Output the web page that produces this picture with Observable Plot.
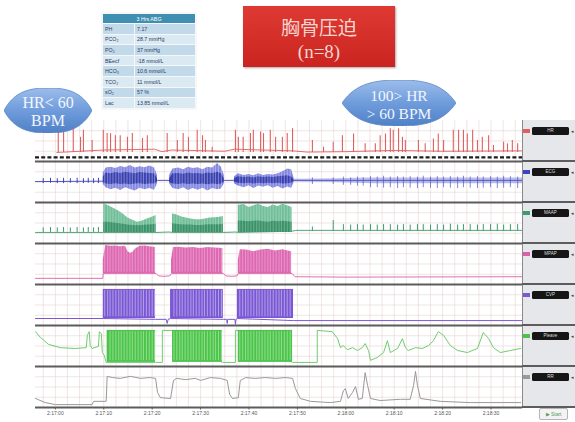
<!DOCTYPE html>
<html><head><meta charset="utf-8">
<script src="https://cdn.jsdelivr.net/npm/d3@7"></script>
<script src="https://cdn.jsdelivr.net/npm/@observablehq/plot@0.6"></script>
<style>
body{margin:0;background:#fff;}
#wrap{position:relative;width:575px;height:422px;overflow:hidden;background:#fff;}
#wrap svg{position:absolute;left:0;top:0;}
.ov{position:absolute;}
table.abg{border-collapse:collapse;font-family:"Liberation Sans",sans-serif;font-size:5.3px;color:#27405e;}
table.abg td{height:9.6px;padding:0 2px;border:1px solid #f4f8fb;white-space:nowrap;}
</style></head><body><div id="wrap"></div>
<script>
// ---------------- DATA ----------------
const channels = ["HR","ECG","MAAP","MPAP","CVP","Pleave","RR"];
const channelLabels = ["HR","ECG","MAAP","MPAP","CVP","Pleave","RR"];
const tickSeconds = [0,10,20,30,40,50,60,70,80,90];
const tickLabels = ["2:17:00","2:17:10","2:17:20","2:17:30","2:17:40","2:17:50","2:18:00","2:18:10","2:18:20","2:18:30"];
const timeStart = -4.1, timeEnd = 96.5;

const abgTitle = "3 Hrs ABG";
const abgLabels = ["PH","PCO₂","PO₂","BEecf","HCO₃","TCO₂","sO₂","Lac"];
const abgValues = ["7.17","28.7 mmHg","37 mmHg","-18 mmol/L","10.6 mmol/L","11 mmol/L","57 %","13.85 mmol/L"];
const titleLines = ["胸骨压迫","(n=8)"];
const leftNote = ["HR< 60","BPM"];
const rightNote = ["100> HR","> 60 BPM"];

// chest-compression instants (s)
const compressionTimes = [10.2,10.8,11.3,11.9,12.5,13.1,13.6,14.2,14.8,15.4,15.9,16.5,17.1,17.7,18.2,18.8,19.4,20.0,20.5,
  24.5,25.1,25.7,26.2,26.8,27.4,28.0,28.5,29.1,29.7,30.3,30.8,31.4,32.0,32.6,33.1,33.7,34.3,
  38.1,38.7,39.3,39.8,40.4,41.0,41.6,42.1,42.7,43.3,43.9,44.4,45.0,45.6,46.2,46.7,47.3,47.9,48.5];

// HR (panel units 0-100)
const hrBase = [[0.3,22],[10,28],[20.5,30],[22,24],[24,28],[35,25],[37,30],[49,26],[52,23],[60,24],[70,27],[80,25],[96.3,26]];
const hrSpikes = [[0.6,72],[1.7,72],[3.7,84],[5.2,59],[5.8,76],[7.6,51],[9.9,76],[10.7,68],[11.4,68],[12.4,63],[13.4,63],
  [14.9,59],[15.9,68],[18.0,56],[19.0,63],[23.1,68],[25.2,51],[26.4,68],[27.5,59],[29.3,76],[30.4,63],[31.0,51],[32.4,35],
  [37.2,76],[37.8,59],[38.8,59],[40.3,68],[40.9,76],[42.4,72],[43.0,68],[44.4,76],[45.5,59],[46.9,59],[47.9,68],[49.0,80],
  [53.1,51],[55.4,35],[57.4,47],[59.3,63],[61.6,67],[64.0,43],[66.1,43],[67.1,63],[68.2,67],[69.2,80],[69.8,76],[70.9,80],
  [71.7,59],[72.3,51],[75.0,51],[76.4,43],[78.1,55],[79.1,67],[80.2,51],[82.2,76],[83.3,76],[84.3,76],[85.1,67],[86.2,76],
  [87.2,51],[88.2,59],[89.5,63],[90.5,39],[92.6,47],[93.4,43],[94.4,51],[95.5,43]];
const hrDashLevel = 10;

// beats outside compression
const preBeatT = [-2.5,-1.0,0.4,1.7,3.1,4.5,5.8,6.8,7.9,8.9];
const postBeatT = [53.1,57.4,59.5,61.0,62.4,63.6,65.1,66.5,67.8,69.2,70.7,71.9,73.3,74.8,76.0,77.5,78.9,80.2,81.6,83.1,84.3,85.7,87.2,88.4,89.9,91.3,92.6,94.0,95.5];

// ECG
const ecgLine = [[-4.1,51],[9.9,52],[21.1,54],[23.6,54],[34.9,54],[37.0,54],[49.3,54],[96.5,54]];
const ecgPreBeatLo = [46,47,46,46,47,46,46,47,46,46];
const ecgPreBeatHi = [58,59,58,59,58,59,58,59,58,59];
const ecgPostBeatLo = [44,44,42,42,40,40,36,36,35,36,34,36,35,34,36,35,34,36,35,34,36,35,34,35,36,34,35,36,34];
const ecgPostBeatHi = [60,60,62,60,62,61,63,62,64,62,63,62,63,62,64,62,63,62,63,62,64,62,63,62,63,62,64,63,62];
const ecgNoise = {t:[49.3,58,62,66,96.5], lo:[50,49,47,46,46], hi:[57,58,59,60,60]};
const ecgEnvT  = [[9.9,10.5,11.5,12.5,13.5,14.5,15.5,16.5,17.5,18.5,19.5,20.5,21.1],
                  [23.6,24.3,25.5,26.5,27.5,28.5,29.5,30.5,31.5,32.5,33.5,34.3,34.9],
                  [37.0,37.8,39,40,41,42,43,44,45,46,47,48,48.8,49.3]];
const ecgEnvHi = [[72,84,86,83,88,85,90,84,87,85,89,84,66],
                  [66,82,84,80,86,83,85,80,86,84,95,86,66],
                  [62,70,66,68,65,70,66,68,67,70,75,82,80,60]];
const ecgEnvLo = [[44,36,31,35,29,36,32,28,35,31,34,30,46],
                  [46,34,31,36,29,34,30,35,28,34,31,33,46],
                  [46,40,36,41,34,40,37,41,35,39,33,38,34,48]];
const ecgCoreHi = [[62,72,70,73,71,74,72,70,73,72,71,70,58],
                   [58,70,71,69,72,70,71,69,72,71,74,70,58],
                   [58,63,61,62,60,63,61,62,61,63,64,65,62,56]];
const ecgCoreLo = [[48,45,44,46,44,45,43,45,46,44,45,45,50],
                   [49,45,44,46,44,45,44,45,43,45,44,45,50],
                   [50,47,46,47,45,47,46,47,46,47,45,46,47,51]];

// MAAP
const maapLine = [[-4.1,27],[9.9,27],[20.8,27],[23.5,28],[24.2,27],[34.7,27],[37.2,28],[37.8,27],[48.9,30],[49.6,32],[96.5,32]];
const maapPreBeatV = [38,39,38,39,38,39,38,39,38,39];
const maapPostBeatV = [40,56,46,45,46,45,46,45,46,46,45,46,45,46,46,45,46,45,47,45,46,46,45,46,46,47,45,46,46];
const maapLo = 27;
const maapEnvT  = [[10.0,11,12,13,14,15,16,17,18,19,20,20.8],
                   [24.2,25,26,27,28,29,30,31,32,33,34,34.7],
                   [37.8,39,40,41,42,43,44,45,46,47,48,48.9]];
const maapEnvHi = [[97,92,86,80,72,62,57,52,55,60,64,68],
                   [72,70,65,62,60,58,58,60,62,63,64,66],
                   [93,95,88,92,96,90,88,94,90,96,92,88]];
const maapCoreHi = [[52,52,50,49,47,45,44,43,44,45,46,47],
                    [48,47,46,45,45,44,44,45,46,46,46,47],
                    [55,54,53,54,55,53,52,54,53,54,53,52]];

// MPAP
const mpapLine = [[-4.1,15],[9.8,15],[9.9,27],[20.8,27],[21.3,21],[22.5,20],[23.6,21],[24.0,27],[34.7,27],[35.2,21],[36.5,20],[37.5,21],[37.8,27],[48.9,27],[49.5,19],[60,18],[96.5,19]];
const mpapLo = 27;
const mpapEnvT  = [[9.9,10.4,11.5,12.5,13.5,14.5,15.0,15.5,16.0,16.5,17.5,18.5,19.5,20.7],
                   [24.0,24.4,25.5,27,28.5,30,31.5,33,34.6],
                   [37.8,38.2,39.5,41,42.5,44,45.5,47,48.8]];
const mpapEnvHi = [[60,95,93,94,92,93,80,76,78,86,93,94,92,90],
                   [60,90,91,89,90,88,90,89,88],
                   [60,85,84,80,84,86,82,85,80]];

// CVP
const cvpLine = [[-4.1,17],[9.9,17],[20.7,15],[22.9,15],[23.1,5],[23.3,15],[23.8,17],[34.7,15],[35.4,15],[35.5,5],[35.6,15],[37.1,15],[37.2,3],[37.3,15],[37.6,17],[49.2,12],[96.5,12]];
const cvpBlockStart = [9.9,23.8,37.6];
const cvpBlockEnd = [20.7,34.7,49.2];
const cvpBlockLo = 17, cvpBlockHi = 88;

// Pleave
const pleaveLine = [[-4.1,85],[-3.1,71],[-1.4,54],[1.0,46],[4.1,44],[6.4,46],[6.6,76],[7.0,85],[7.2,51],[7.6,44],[8.9,49],[9.1,85],[9.5,80],[9.7,34],[10.1,27],[10.5,10],
  [20.7,10],[22.1,10],[22.1,88],[24.2,88],[34.5,10],[37.2,10],[37.2,88],[37.8,88],[49.0,10],[54.1,10],[54.1,88],[57.2,85],[58.3,68],[58.9,46],[59.5,51],[60.3,41],
  [61.4,46],[62.4,39],[63.4,46],[64.0,56],[64.7,39],[65.1,15],[66.5,22],[67.8,34],[68.6,63],[69.2,34],[70.7,44],[71.7,68],[72.3,46],[72.9,39],[74.4,46],[75.8,44],
  [77.1,51],[78.1,63],[79.1,85],[80.2,76],[81.6,51],[83.1,39],[85.1,34],[87.2,44],[88.4,83],[89.5,68],[90.5,46],[91.9,34],[94.0,39],[96.1,44]];
const pleaveBlockStart = [10.7,24.2,37.8];
const pleaveBlockEnd = [20.7,34.5,49.0];
const pleaveBlockLo = 10, pleaveBlockHi = 88;

// RR
const rrLine = [[-4.1,22],[-2.1,12],[0,7],[7.6,7],[7.9,15],[10.5,15],[10.7,76],[11.8,73],[13.4,71],[15.5,76],[17.6,71],[19.6,73],[20.7,71],[21.1,37],[21.7,24],[23.8,22],
  [24.4,66],[25.0,71],[26.9,68],[28.9,71],[30.0,66],[32.0,73],[34.1,71],[35.5,66],[36.0,32],[36.6,22],[37.8,24],[38.2,66],[39.3,73],[41.3,71],[43.4,73],[45.5,71],
  [47.5,73],[49.0,71],[49.6,46],[50.6,22],[52.7,15],[56.8,12],[58.9,15],[59.5,41],[59.9,46],[60.5,22],[61.4,37],[62.0,51],[62.6,20],[63.4,22],[64.0,85],[64.5,54],
  [65.1,22],[67.1,17],[71.3,20],[73.3,20],[74.0,54],[74.4,88],[74.8,54],[75.4,22],[79.5,15],[85.7,12],[96.1,12]];

// ---------------- STYLE ----------------
const colors = {HR:"#e06060",ECG:"#3a43c0",MAAP:"#3c9c6e",MPAP:"#dc5fae",CVP:"#7a57d4",Pleave:"#4cc44c",RR:"#999999"};
const gridTimes = d3.range(-2.5, 96.5, 2.5);

// ---------------- BUILD ----------------
const pts = (ch, pairs) => pairs.map(([t, v]) => ({ch, t, v}));
const envRows = (ch, T, Lo, Hi) => T.flatMap((ts, b) => ts.map((t, i) => ({ch, b, t,
  lo: Array.isArray(Lo) ? Lo[b][i] : Lo, hi: Hi[b][i]})));
const blocks = (ch, S, E, lo, hi) => S.map((s, i) => ({ch, s, e: E[i], lo, hi}));
const inBlocks = (S, E) => compressionTimes.filter(t => S.some((s, i) => t > s + 0.15 && t < E[i] - 0.15));
const firsts = T => T.map(a => a[0]), lasts = T => T.map(a => a[a.length - 1]);

const marks = [
  Plot.ruleX(gridTimes, {stroke:"#e6d3d3", strokeWidth:0.6}),
  Plot.ruleY([25,50,75], {stroke:"#e6d3d3", strokeWidth:0.6}),
  // HR
  Plot.lineY(pts("HR", hrBase), {x:"t", y:"v", fy:"ch", stroke:colors.HR, strokeWidth:0.9}),
  Plot.ruleX(pts("HR", hrSpikes), {x:"t", y1:22, y2:"v", fy:"ch", stroke:colors.HR, strokeWidth:1.1}),
  Plot.ruleY([{ch:"HR", v:hrDashLevel}], {y:"v", fy:"ch", stroke:"#1e1e1e", strokeWidth:2.2, strokeDasharray:"4,2.2"}),
  // ECG
  Plot.lineY(pts("ECG", ecgLine), {x:"t", y:"v", fy:"ch", stroke:colors.ECG, strokeWidth:0.9}),
  Plot.areaY(ecgNoise.t.map((t,i)=>({ch:"ECG", t, lo:ecgNoise.lo[i], hi:ecgNoise.hi[i]})), {x:"t", y1:"lo", y2:"hi", fy:"ch", fill:"#5a62d0", fillOpacity:0.4}),
  Plot.ruleX(preBeatT.map((t,i)=>({ch:"ECG", t, lo:ecgPreBeatLo[i], hi:ecgPreBeatHi[i]})), {x:"t", y1:"lo", y2:"hi", fy:"ch", stroke:colors.ECG, strokeWidth:1}),
  Plot.ruleX(postBeatT.map((t,i)=>({ch:"ECG", t, lo:ecgPostBeatLo[i], hi:ecgPostBeatHi[i]})), {x:"t", y1:"lo", y2:"hi", fy:"ch", stroke:"#4a53c8", strokeWidth:0.7}),
  Plot.areaY(envRows("ECG", ecgEnvT, ecgEnvLo, ecgEnvHi), {x:"t", y1:"lo", y2:"hi", z:"b", fy:"ch", fill:"#6c72da", fillOpacity:0.85}),
  Plot.areaY(envRows("ECG", ecgEnvT, ecgCoreLo, ecgCoreHi), {x:"t", y1:"lo", y2:"hi", z:"b", fy:"ch", fill:"#2d35a8", fillOpacity:0.85}),
  Plot.ruleX(inBlocks(firsts(ecgEnvT), lasts(ecgEnvT)).map(t=>({ch:"ECG", t})), {x:"t", y1:20, y2:98, fy:"ch", stroke:"#fff", strokeOpacity:0.4, strokeWidth:0.9}),
  // MAAP
  Plot.lineY(pts("MAAP", maapLine), {x:"t", y:"v", fy:"ch", stroke:colors.MAAP, strokeWidth:0.9}),
  Plot.ruleX(preBeatT.map((t,i)=>({ch:"MAAP", t, v:maapPreBeatV[i]})), {x:"t", y1:maapLo, y2:"v", fy:"ch", stroke:colors.MAAP, strokeWidth:1}),
  Plot.ruleX(postBeatT.map((t,i)=>({ch:"MAAP", t, v:maapPostBeatV[i]})), {x:"t", y1:30, y2:"v", fy:"ch", stroke:colors.MAAP, strokeWidth:1}),
  Plot.areaY(envRows("MAAP", maapEnvT, maapLo, maapEnvHi), {x:"t", y1:"lo", y2:"hi", z:"b", fy:"ch", fill:"#62b88e", fillOpacity:0.9}),
  Plot.areaY(envRows("MAAP", maapEnvT, maapLo, maapCoreHi), {x:"t", y1:"lo", y2:"hi", z:"b", fy:"ch", fill:"#2f8a5f", fillOpacity:0.85}),
  Plot.ruleX(inBlocks(firsts(maapEnvT), lasts(maapEnvT)).map(t=>({ch:"MAAP", t})), {x:"t", y1:maapLo, y2:100, fy:"ch", stroke:"#fff", strokeOpacity:0.35, strokeWidth:0.8}),
  // MPAP
  Plot.lineY(pts("MPAP", mpapLine), {x:"t", y:"v", fy:"ch", stroke:colors.MPAP, strokeWidth:0.9}),
  Plot.areaY(envRows("MPAP", mpapEnvT, mpapLo, mpapEnvHi), {x:"t", y1:"lo", y2:"hi", z:"b", fy:"ch", fill:colors.MPAP, fillOpacity:0.95}),
  Plot.ruleX(inBlocks(firsts(mpapEnvT), lasts(mpapEnvT)).map(t=>({ch:"MPAP", t})), {x:"t", y1:mpapLo + 3, y2:100, fy:"ch", stroke:"#fff", strokeOpacity:0.4, strokeWidth:0.8}),
  // CVP
  Plot.lineY(pts("CVP", cvpLine), {x:"t", y:"v", fy:"ch", stroke:colors.CVP, strokeWidth:1}),
  Plot.rectY(blocks("CVP", cvpBlockStart, cvpBlockEnd, cvpBlockLo, cvpBlockHi), {x1:"s", x2:"e", y1:"lo", y2:"hi", fy:"ch", fill:colors.CVP}),
  Plot.ruleX(inBlocks(cvpBlockStart, cvpBlockEnd).map(t=>({ch:"CVP", t})), {x:"t", y1:cvpBlockLo + 4, y2:cvpBlockHi - 2, fy:"ch", stroke:"#fff", strokeOpacity:0.55, strokeWidth:0.8}),
  // Pleave
  Plot.lineY(pts("Pleave", pleaveLine), {x:"t", y:"v", fy:"ch", stroke:"#70cc70", strokeWidth:1}),
  Plot.rectY(blocks("Pleave", pleaveBlockStart, pleaveBlockEnd, pleaveBlockLo, pleaveBlockHi), {x1:"s", x2:"e", y1:"lo", y2:"hi", fy:"ch", fill:colors.Pleave}),
  Plot.ruleX(inBlocks(pleaveBlockStart, pleaveBlockEnd).map(t=>({ch:"Pleave", t})), {x:"t", y1:pleaveBlockLo + 4, y2:pleaveBlockHi - 3, fy:"ch", stroke:"#b9eeb2", strokeOpacity:0.8, strokeWidth:0.8}),
  // RR
  Plot.lineY(pts("RR", rrLine), {x:"t", y:"v", fy:"ch", stroke:colors.RR, strokeWidth:1}),
  // separators
  Plot.ruleY([0], {stroke:"#5c5c5c", strokeWidth:2})
];

const plot = Plot.plot({
  width: 575, height: 422,
  marginTop: 120, marginBottom: 15, marginLeft: 35, marginRight: 53,
  x: {domain: [timeStart, timeEnd], ticks: tickSeconds, tickFormat: d => tickLabels[tickSeconds.indexOf(d)], tickSize: 2.5, tickPadding: 1.5, label: null},
  y: {domain: [0, 100], axis: null},
  fy: {domain: channels, padding: 0, axis: null},
  style: {fontFamily: "Liberation Sans, sans-serif", fontSize: "5px", color: "#555", background: "transparent"},
  marks
});

const wrap = document.getElementById("wrap");
wrap.appendChild(plot);

// ---------------- OVERLAYS ----------------
function el(tag, css, html) { const e = document.createElement(tag); e.className = "ov"; e.style.cssText = css; if (html != null) e.innerHTML = html; wrap.appendChild(e); return e; }

// right channel panel, aligned to the fy scale
let fyS = null; try { fyS = plot.scale("fy"); } catch (e) {}
const bw = fyS && fyS.bandwidth ? fyS.bandwidth : (422 - 120 - 15) / channels.length;
const rowTop = ch => fyS ? fyS.apply(ch) : 120 + channels.indexOf(ch) * bw;
const panelLeft = 575 - 53;
el("div", `left:${panelLeft}px;top:120px;width:53px;height:${bw*channels.length}px;background:#e5e7ea;border-left:1px solid #8a8a8a;`);
channels.forEach((ch, i) => {
  const top = rowTop(ch);
  el("div", `left:${panelLeft}px;top:${top + bw - 1}px;width:53px;height:2px;background:#5c5c5c;`);
  el("div", `left:${panelLeft + 1}px;top:${top + 9}px;width:7px;height:4px;background:${colors[ch]};`);
  el("div", `left:${panelLeft + 10}px;top:${top + 7}px;width:37px;height:8px;background:#161616;border-radius:1.5px;color:#ddd;font:4.5px 'Liberation Sans',sans-serif;line-height:8px;text-align:center;`, channelLabels[i]);
  el("div", `left:${panelLeft + 49}px;top:${top + 7}px;width:3px;height:8px;color:#444;font:5px 'DejaVu Sans';line-height:8px;`, "◂");
});
el("div", `left:539px;top:408px;width:27px;height:10px;border:1px solid #b5b5b5;border-radius:2px;background:#f3f3f3;color:#5a9a5a;font:5px 'Liberation Sans',sans-serif;line-height:10px;text-align:center;`, "▶ Start");

// ABG table
let rowsHtml = `<tr><td colspan="2" style="background:#3f8fb2;color:#fff;text-align:center;height:9px;">${abgTitle}</td></tr>`;
abgLabels.forEach((l, i) => {
  const bg = i % 2 ? "#dbe9f3" : "#c2d9e9";
  rowsHtml += `<tr><td style="background:${bg};width:27px;">${l}</td><td style="background:${bg};">${abgValues[i]}</td></tr>`;
});
el("table", "left:102px;top:13px;width:94px;box-shadow:0 0 1px rgba(0,0,0,0.2);", rowsHtml).classList.add("abg");

// red title box
el("div", `left:243px;top:6px;width:152px;height:61px;background:linear-gradient(#de3a33,#cb2420);box-shadow:1px 1px 2px rgba(0,0,0,0.35);color:#f6d4cf;text-align:center;`,
  `<div style="font:19px 'Noto Sans CJK SC',sans-serif;margin-top:9px;line-height:24px;">${titleLines[0]}</div><div style="font:19px 'Liberation Serif',serif;line-height:24px;margin-top:1px;">${titleLines[1]}</div>`);

// blue lens notes
function lens(x, y, w, h, lines, fs, ys) {
  const p = `M0,${h/2} C${w*0.12},${h*0.06} ${w*0.3},0 ${w/2},0 C${w*0.7},0 ${w*0.88},${h*0.06} ${w},${h/2} C${w*0.88},${h*0.94} ${w*0.7},${h} ${w/2},${h} C${w*0.3},${h} ${w*0.12},${h*0.94} 0,${h/2} Z`;
  const id = "g" + x;
  el("div", `left:${x}px;top:${y}px;width:${w}px;height:${h}px;`,
    `<svg width="${w}" height="${h}" style="position:static"><defs><linearGradient id="${id}" x1="0" y1="0" x2="0" y2="1"><stop offset="0" stop-color="#9cbdeb"/><stop offset="0.5" stop-color="#6f9cdb"/><stop offset="1" stop-color="#4f80c6"/></linearGradient></defs>
     <path d="${p}" fill="url(#${id})" stroke="#5a86c4" stroke-width="0.8"/>
     ${lines.map((t, i) => `<text x="${w/2}" y="${ys[i]}" text-anchor="middle" dominant-baseline="middle" fill="#f3f6ff" font-family="Liberation Serif, serif" font-size="${fs}">${t.replace(/</g,"&lt;").replace(/>/g,"&gt;")}</text>`).join("")}
    </svg>`);
}
lens(4, 88, 88, 45, leftNote, 16, [16, 34]);
lens(342, 80, 114, 46, rightNote, 15.5, [17, 35]);
</script>
</body></html>
